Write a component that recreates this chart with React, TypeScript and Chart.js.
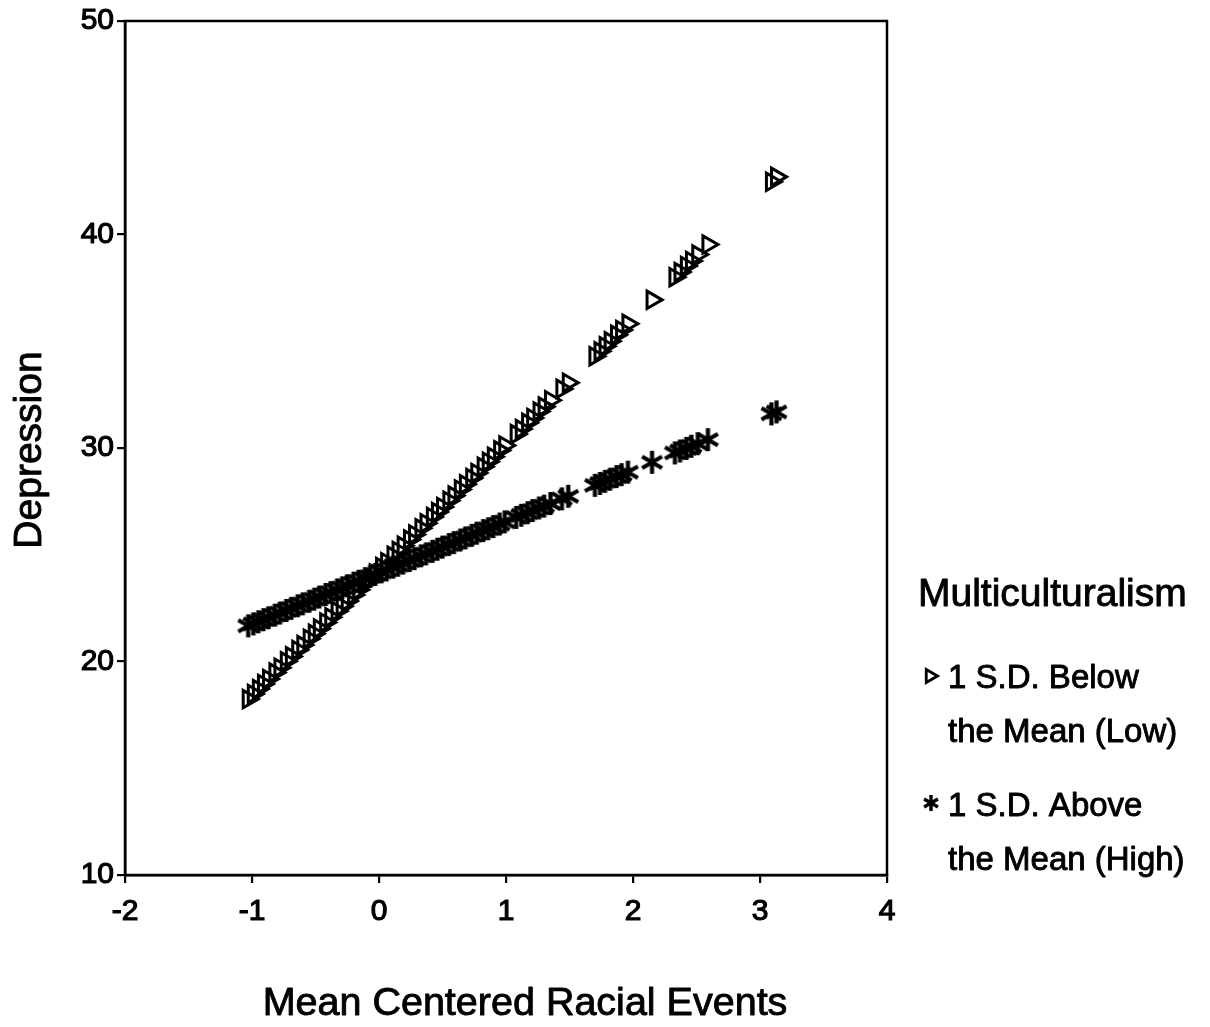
import React, { useEffect, useRef } from "react";
import { Chart, registerables } from "chart.js";

Chart.register(...registerables);

// ---------- data ----------
const xValues = [
  -1.03, -0.99, -0.95, -0.91, -0.87, -0.82, -0.78, -0.73, -0.69, -0.64,
  -0.6, -0.55, -0.51, -0.47, -0.42, -0.38, -0.33, -0.29, -0.25, -0.2,
  -0.16, -0.11, -0.07, -0.03, 0.02, 0.06, 0.11, 0.15, 0.19, 0.24,
  0.28, 0.33, 0.37, 0.42, 0.46, 0.5, 0.55, 0.59, 0.64, 0.68,
  0.73, 0.77, 0.82, 0.86, 0.9, 0.95, 0.99, 1.08, 1.12, 1.17,
  1.21, 1.26, 1.3, 1.35, 1.44, 1.49, 1.7, 1.74, 1.78, 1.82,
  1.87, 1.91, 1.96, 2.15, 2.33, 2.37, 2.42, 2.46, 2.51, 2.59,
  3.09, 3.13,
];

const lowValues = [
  18.24, 18.48, 18.71, 18.95, 19.18, 19.48, 19.71, 20.01, 20.24, 20.54,
  20.77, 21.07, 21.3, 21.54, 21.83, 22.07, 22.36, 22.59, 22.83, 23.12,
  23.36, 23.65, 23.89, 24.12, 24.42, 24.65, 24.95, 25.18, 25.42, 25.71,
  25.95, 26.24, 26.48, 26.77, 27.0, 27.24, 27.53, 27.77, 28.06, 28.3,
  28.59, 28.83, 29.12, 29.36, 29.59, 29.89, 30.12, 30.65, 30.89, 31.18,
  31.41, 31.71, 31.94, 32.24, 32.77, 33.06, 34.3, 34.53, 34.77, 35.0,
  35.3, 35.53, 35.82, 36.94, 38.0, 38.24, 38.53, 38.76, 39.06, 39.53,
  42.47, 42.7,
];

const highValues = [
  21.67, 21.76, 21.86, 21.96, 22.05, 22.17, 22.27, 22.39, 22.49, 22.61,
  22.7, 22.82, 22.92, 23.02, 23.14, 23.23, 23.35, 23.45, 23.55, 23.67,
  23.76, 23.88, 23.98, 24.08, 24.2, 24.29, 24.42, 24.51, 24.61, 24.73,
  24.82, 24.95, 25.04, 25.16, 25.26, 25.36, 25.48, 25.57, 25.69, 25.79,
  25.91, 26.01, 26.13, 26.22, 26.32, 26.44, 26.54, 26.75, 26.85, 26.97,
  27.07, 27.19, 27.28, 27.4, 27.62, 27.74, 28.25, 28.34, 28.44, 28.54,
  28.66, 28.75, 28.87, 29.33, 29.77, 29.86, 29.98, 30.08, 30.2, 30.39,
  31.6, 31.69,
];

const xTickValues = [-2, -1, 0, 1, 2, 3, 4];
const yTickValues = [10, 20, 30, 40, 50];

const xTitle = "Mean Centered Racial Events";
const yTitle = "Depression";
const legendTitle = "Multiculturalism";
const lowLabelLines = ["1 S.D. Below", "the Mean (Low)"];
const highLabelLines = ["1 S.D. Above", "the Mean (High)"];

// ---------- styling ----------
const FONT = '"Liberation Sans", Arial, Helvetica, sans-serif';
const W = 1210;
const H = 1027;

function makeAsterisk(size: number, lineWidth: number): HTMLCanvasElement {
  const c = document.createElement("canvas");
  c.width = size;
  c.height = size;
  const ctx = c.getContext("2d")!;
  ctx.strokeStyle = "#000";
  ctx.lineWidth = lineWidth;
  ctx.lineCap = "butt";
  const cx = size / 2;
  const r = size / 2 - 1;
  for (const deg of [90, 30, 150]) {
    const a = (deg * Math.PI) / 180;
    ctx.beginPath();
    ctx.moveTo(cx + r * Math.cos(a), cx - r * Math.sin(a));
    ctx.lineTo(cx - r * Math.cos(a), cx + r * Math.sin(a));
    ctx.stroke();
  }
  return c;
}

function drawTriangle(ctx: CanvasRenderingContext2D, x: number, y: number, r: number, lw: number) {
  ctx.save();
  ctx.lineWidth = lw;
  ctx.strokeStyle = "#000";
  ctx.lineJoin = "miter";
  ctx.beginPath();
  for (let i = 0; i < 3; i++) {
    const a = (i * 2 * Math.PI) / 3;
    const px = x + r * Math.cos(a);
    const py = y + r * Math.sin(a);
    if (i === 0) ctx.moveTo(px, py);
    else ctx.lineTo(px, py);
  }
  ctx.closePath();
  ctx.stroke();
  ctx.restore();
}

function heavyText(ctx: CanvasRenderingContext2D, text: string, x: number, y: number) {
  ctx.fillText(text, x, y);
  ctx.strokeText(text, x, y);
}

const decorPlugin = {
  id: "decor",
  afterDraw(chart: any) {
    const { ctx, chartArea: a } = chart;
    ctx.save();
    ctx.strokeStyle = "#000";
    ctx.lineWidth = 2.5;
    ctx.strokeRect(a.left, a.top, a.right - a.left, a.bottom - a.top);

    ctx.fillStyle = "#000";
    ctx.textBaseline = "middle";
    ctx.lineWidth = 0.9;
    ctx.lineJoin = "round";

    // y axis title
    ctx.font = `39px ${FONT}`;
    ctx.textAlign = "center";
    ctx.save();
    ctx.translate(30, 450);
    ctx.rotate(-Math.PI / 2);
    heavyText(ctx, yTitle, 0, 0);
    ctx.restore();

    // x axis title
    ctx.font = `39.5px ${FONT}`;
    heavyText(ctx, xTitle, 525, 1004);

    // legend
    ctx.textAlign = "left";
    ctx.font = `39px ${FONT}`;
    heavyText(ctx, legendTitle, 918, 595);

    ctx.font = `33px ${FONT}`;
    heavyText(ctx, lowLabelLines[0], 948, 679);
    heavyText(ctx, lowLabelLines[1], 948, 733);
    heavyText(ctx, highLabelLines[0], 948, 807);
    heavyText(ctx, highLabelLines[1], 948, 861);

    drawTriangle(ctx, 930, 676, 7.5, 2.8);
    const ast = makeAsterisk(18, 3.4);
    ctx.drawImage(ast, 931 - 9, 803 - 9);
    ctx.restore();
  },
};

export default function App() {
  const canvasRef = useRef<HTMLCanvasElement | null>(null);

  useEffect(() => {
    document.body.style.margin = "0";
    const canvas = canvasRef.current;
    if (!canvas) return;
    const asterisk = makeAsterisk(25, 4.2);

    const lowData = xValues.map((x, i) => ({ x, y: lowValues[i] }));
    const highData = xValues.map((x, i) => ({ x, y: highValues[i] }));

    const chart = new Chart(canvas, {
      type: "scatter",
      data: {
        datasets: [
          {
            label: lowLabelLines.join(" "),
            data: lowData,
            pointStyle: "triangle",
            rotation: 90,
            pointRadius: 10,
            pointBorderWidth: 3,
            borderColor: "#000",
            backgroundColor: "rgba(0,0,0,0)",
            pointBackgroundColor: "rgba(0,0,0,0)",
            pointBorderColor: "#000",
          },
          {
            label: highLabelLines.join(" "),
            data: highData,
            pointStyle: asterisk as any,
            pointRadius: 12,
            borderColor: "#000",
            backgroundColor: "#000",
          },
        ],
      },
      options: {
        responsive: false,
        devicePixelRatio: 1,
        animation: false,
        events: [],
        layout: { padding: { left: 0, right: 323, top: 18, bottom: 0 } },
        plugins: {
          legend: { display: false },
          tooltip: { enabled: false },
          title: { display: false },
        },
        scales: {
          x: {
            type: "linear",
            min: -2,
            max: 4,
            afterBuildTicks: (scale: any) => {
              scale.ticks = xTickValues.map((v) => ({ value: v }));
            },
            afterFit: (scale: any) => {
              scale.height = 152;
            },
            ticks: {
              color: "#000",
              font: { family: FONT, size: 30 },
              padding: 11,
              maxRotation: 0,
              textStrokeColor: "#000",
              textStrokeWidth: 1.2,
            },
            grid: {
              drawOnChartArea: false,
              drawTicks: true,
              tickLength: 8,
              color: "#000",
              lineWidth: 2.2,
            },
            border: { display: true, color: "#000", width: 2.5 },
          },
          y: {
            type: "linear",
            min: 10,
            max: 50,
            afterBuildTicks: (scale: any) => {
              scale.ticks = yTickValues.map((v) => ({ value: v }));
            },
            afterFit: (scale: any) => {
              scale.width = 125;
            },
            ticks: {
              color: "#000",
              font: { family: FONT, size: 30 },
              padding: 3,
              textStrokeColor: "#000",
              textStrokeWidth: 1.2,
            },
            grid: {
              drawOnChartArea: false,
              drawTicks: true,
              tickLength: 8,
              color: "#000",
              lineWidth: 2.2,
            },
            border: { display: true, color: "#000", width: 2.5 },
          },
        },
      },
      plugins: [decorPlugin],
    });

    return () => {
      chart.destroy();
    };
  }, []);

  return (
    <div style={{ position: "absolute", left: 0, top: 0, width: W, height: H, background: "#fff" }}>
      <canvas ref={canvasRef} width={W} height={H} style={{ display: "block", width: W, height: H }} />
    </div>
  );
}
